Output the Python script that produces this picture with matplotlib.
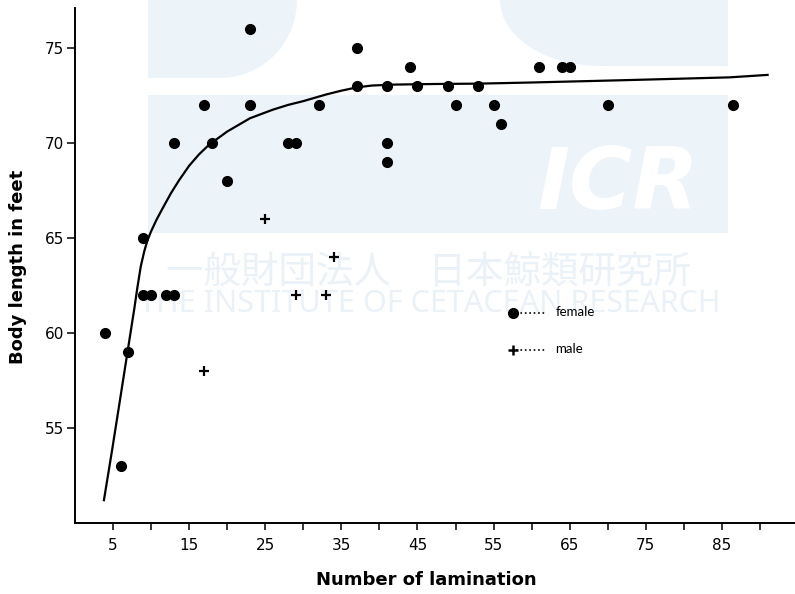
import matplotlib
matplotlib.use("Agg")
import matplotlib.pyplot as plt
from matplotlib.patches import Rectangle, Polygon
import numpy as np

# data
female_lam = [4, 6, 7, 9, 9, 10, 12, 13, 13, 17, 18, 20, 23, 23, 28, 29, 32,
              37, 37, 41, 41, 41, 44, 45, 49, 50, 53, 55, 56, 61, 64, 65, 70, 86.5]
female_len = [60, 53, 59, 65, 62, 62, 62, 62, 70, 72, 70, 68, 72, 76, 70, 70, 72,
              75, 73, 73, 70, 69, 74, 73, 73, 72, 73, 72, 71, 74, 74, 74, 72, 72]

male_lam = [17, 25, 29, 33, 34]
male_len = [58, 66, 62, 62, 64]

# fitted growth curve, traced point by point
curve_lam = [3.8, 4.9, 6.0, 6.9, 7.8, 8.2, 8.64, 9.1, 9.5, 10.0, 10.7, 11.5,
             12.6, 13.7, 15.0, 16.3, 17.6, 20.0, 23.0, 26.0, 28.0, 30.0, 33.0,
             35.0, 37.0, 39.0, 42.0, 47.0, 53.0, 60.0, 66.0, 72.0, 79.5, 86.0, 91.0]
curve_len = [51.2, 53.9, 56.7, 59.0, 61.3, 62.4, 63.5, 64.3, 64.85, 65.35, 65.95,
             66.55, 67.35, 68.05, 68.8, 69.4, 69.9, 70.6, 71.3, 71.75, 72.0, 72.2,
             72.55, 72.75, 72.92, 73.02, 73.07, 73.1, 73.12, 73.18, 73.24, 73.3,
             73.38, 73.45, 73.58]

major_x = [5, 15, 25, 35, 45, 55, 65, 75, 85]
minor_x = [10, 20, 30, 40, 50, 60, 70, 80, 90]
y_ticks = [55, 60, 65, 70, 75]

narrow = ['Liberation Sans Narrow', 'DejaVu Sans']
key_font = ['Lato', 'DejaVu Sans']

fig = plt.figure(figsize=(7.95, 5.94), dpi=100)

# faint watermark in the background (pixel coordinates)
bg = fig.add_axes([0, 0, 1, 1], zorder=0)
bg.set_xlim(0, 795)
bg.set_ylim(594, 0)
bg.axis('off')
wm = '#edf4f9'
t = np.linspace(0, np.pi / 2, 30)
tl = [(148, 0), (297, 0)] + list(zip(220 + 77 * np.cos(t), 78 * np.sin(t))) + [(148, 78)]
bg.add_patch(Polygon(tl, closed=True, color=wm, lw=0))
t2 = np.linspace(np.pi, np.pi / 2, 30)
tr = list(zip(600 + 100 * np.cos(t2), 66 * np.sin(t2))) + [(728, 66), (728, 0)]
bg.add_patch(Polygon(tr, closed=True, color=wm, lw=0))
bg.add_patch(Rectangle((148, 95), 580, 138, color=wm, lw=0))
bg.text(618, 186, 'ICR', color='white', fontsize=62, fontweight='bold',
        fontstyle='italic', ha='center', va='center', family='DejaVu Sans')
bg.text(428, 272, '一般財団法人　日本鯨類研究所', color='#eaf2f8', fontsize=27,
        ha='center', va='center', family=['Noto Sans CJK JP', 'DejaVu Sans'])
bg.text(430, 304, 'THE INSTITUTE OF CETACEAN RESEARCH', color='#eaf2f8',
        fontsize=22, ha='center', va='center', family=['Noto Sans', 'DejaVu Sans'])

ax = fig.add_axes([75 / 795, 71 / 594, 720 / 795, 515 / 594], zorder=1)
ax.set_facecolor('none')

ax.plot(curve_lam, curve_len, color='black', lw=1.6, zorder=2)
ax.plot(female_lam, female_len, 'o', color='black', ms=7, zorder=3)
ax.plot(male_lam, male_len, '+', color='black', ms=6.5, mew=1.6, zorder=3)

ax.set_xlim(0, 94.6)
ax.set_ylim(50, 77.1)

ax.spines['top'].set_visible(False)
ax.spines['right'].set_visible(False)
ax.spines['left'].set_linewidth(1.4)
ax.spines['bottom'].set_linewidth(1.4)

ax.set_xticks(major_x)
ax.set_xticks(minor_x, minor=True)
ax.set_yticks(y_ticks)
ax.tick_params(axis='x', which='both', direction='out', length=5, width=1.1,
               pad=6, labelsize=11)
ax.tick_params(axis='y', direction='out', length=6, width=1.1, pad=2, labelsize=11)
for lab in ax.get_xticklabels() + ax.get_yticklabels():
    lab.set_family(narrow)

ax.set_xlabel('Number of lamination', fontsize=13, fontweight='bold',
              family='DejaVu Sans')
ax.xaxis.set_label_coords(0.4875, -0.093)
ax.set_ylabel('Body length in feet', fontsize=13, fontweight='bold',
              family='DejaVu Sans')
ax.yaxis.set_label_coords(-0.066, 0.497)

# hand-drawn style key
ax.plot([0.608], [0.408], 'o', color='black', ms=7, transform=ax.transAxes,
        clip_on=False)
ax.plot([0.612, 0.654], [0.408, 0.408], ':', color='black', lw=1.2,
        transform=ax.transAxes)
ax.text(0.667, 0.41, 'female', fontsize=9.5, va='center', family=key_font,
        transform=ax.transAxes)
ax.plot([0.608], [0.336], '+', color='black', ms=7, mew=1.8,
        transform=ax.transAxes)
ax.plot([0.613, 0.654], [0.336, 0.336], ':', color='black', lw=1.2,
        transform=ax.transAxes)
ax.text(0.667, 0.338, 'male', fontsize=9.5, va='center', family=key_font,
        transform=ax.transAxes)

fig.savefig('out.png', dpi=100)
